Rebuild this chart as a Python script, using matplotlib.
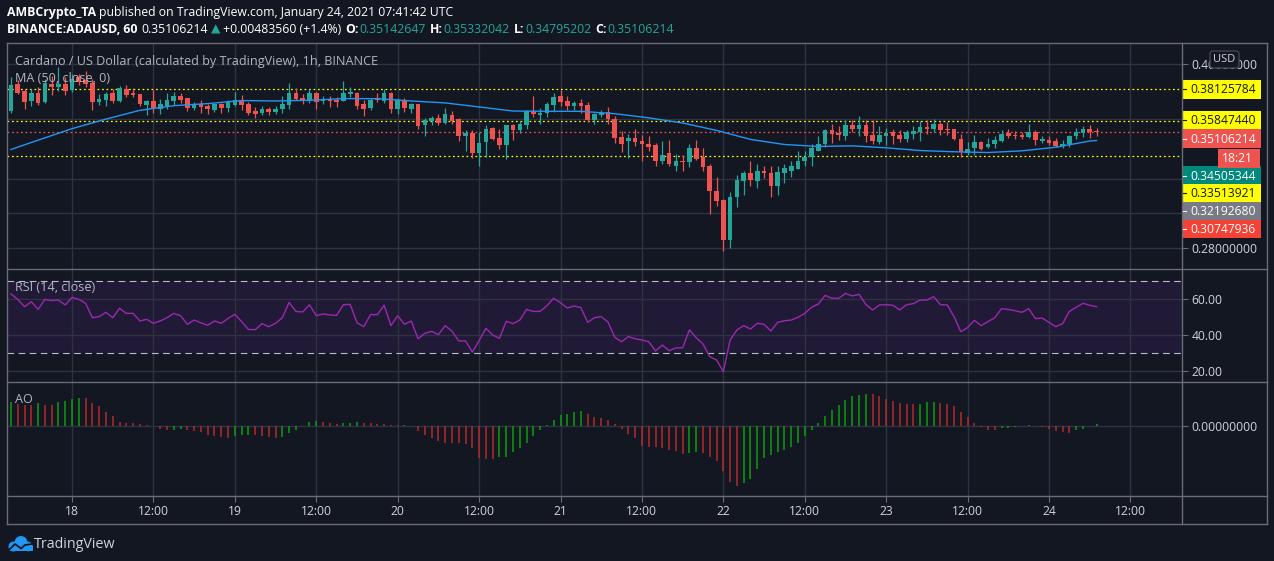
import matplotlib
matplotlib.use('Agg')
import matplotlib.pyplot as plt
from matplotlib.patches import Rectangle, FancyBboxPatch, Circle
from matplotlib.ticker import FixedLocator, FuncFormatter, NullFormatter
import numpy as np
import pandas as pd

# hourly candles ADA/USD, Jan 17 15:00 -> Jan 24 07:00 UTC
times = pd.date_range('2021-01-17 15:00', periods=161, freq='h')

opens = [0.3654, 0.3849, 0.3797, 0.3726, 0.3787, 0.3719, 0.3854, 0.3829, 0.3854,
         0.3804, 0.3905, 0.3879, 0.3861, 0.3719, 0.3731, 0.3785, 0.3726, 0.3816, 0.3785, 0.3775,
         0.3695, 0.3724, 0.3669, 0.3688, 0.3726, 0.3760, 0.3748, 0.3678, 0.3707, 0.3688,
         0.3659, 0.3702, 0.3676, 0.3700, 0.3731, 0.3702, 0.3652, 0.3640, 0.3671, 0.3647,
         0.3669, 0.3700, 0.3787, 0.3750, 0.3731, 0.3782, 0.3724, 0.3738, 0.3731, 0.3726,
         0.3777, 0.3785, 0.3702, 0.3676, 0.3738, 0.3726, 0.3787, 0.3666, 0.3731, 0.3666,
         0.3702, 0.3554, 0.3584, 0.3604, 0.3570, 0.3623, 0.3595, 0.3478, 0.3500, 0.3369,
         0.3440, 0.3533, 0.3469, 0.3418, 0.3554, 0.3519, 0.3554, 0.3652, 0.3623, 0.3640,
         0.3695, 0.3760, 0.3724, 0.3688, 0.3712, 0.3695, 0.3588, 0.3626, 0.3647, 0.3595,
         0.3473, 0.3444, 0.3466, 0.3444, 0.3429, 0.3418, 0.3319, 0.3365, 0.3287, 0.3313,
         0.3309, 0.3404, 0.3339, 0.3281, 0.3131, 0.3077, 0.2842, 0.3091, 0.3189, 0.3242,
         0.3189, 0.3255, 0.3238, 0.3156, 0.3238, 0.3255, 0.3266, 0.3315, 0.3341, 0.3384,
         0.3424, 0.3519, 0.3500, 0.3484, 0.3554, 0.3526, 0.3554, 0.3491, 0.3440, 0.3484,
         0.3507, 0.3489, 0.3458, 0.3496, 0.3507, 0.3542, 0.3530, 0.3561, 0.3526, 0.3526,
         0.3458, 0.3369, 0.3400, 0.3438, 0.3406, 0.3424, 0.3447, 0.3500, 0.3491, 0.3491,
         0.3473, 0.3507, 0.3447, 0.3455, 0.3444, 0.3413, 0.3429, 0.3480, 0.3500, 0.3526,
         0.35142647]
highs = [0.3905, 0.3879, 0.3816, 0.3816, 0.3829, 0.3887, 0.3910, 0.3977, 0.3905,
         0.3930, 0.3925, 0.3951, 0.3887, 0.3780, 0.3792, 0.3816, 0.3834, 0.3841, 0.3824, 0.3780,
         0.3736, 0.3804, 0.3743, 0.3787, 0.3792, 0.3785, 0.3750, 0.3719, 0.3736, 0.3702,
         0.3712, 0.3712, 0.3736, 0.3792, 0.3773, 0.3719, 0.3683, 0.3688, 0.3683, 0.3688,
         0.3760, 0.3859, 0.3824, 0.3780, 0.3816, 0.3792, 0.3760, 0.3760, 0.3755, 0.3871,
         0.3829, 0.3792, 0.3736, 0.3750, 0.3787, 0.3811, 0.3790, 0.3750, 0.3750, 0.3712,
         0.3707, 0.3606, 0.3616, 0.3635, 0.3678, 0.3652, 0.3604, 0.3523, 0.3519, 0.3507,
         0.3554, 0.3542, 0.3526, 0.3556, 0.3561, 0.3584, 0.3664, 0.3760, 0.3676, 0.3719,
         0.3785, 0.3809, 0.3760, 0.3724, 0.3738, 0.3719, 0.3640, 0.3659, 0.3683, 0.3616,
         0.3512, 0.3496, 0.3530, 0.3491, 0.3478, 0.3436, 0.3444, 0.3451, 0.3363, 0.3358,
         0.3424, 0.3451, 0.3400, 0.3298, 0.3217, 0.3081, 0.3121, 0.3230, 0.3255, 0.3319,
         0.3294, 0.3287, 0.3281, 0.3281, 0.3298, 0.3313, 0.3384, 0.3384, 0.3429, 0.3478,
         0.3530, 0.3561, 0.3546, 0.3593, 0.3593, 0.3616, 0.3593, 0.3593, 0.3546, 0.3537,
         0.3530, 0.3519, 0.3523, 0.3546, 0.3581, 0.3588, 0.3600, 0.3577, 0.3575, 0.3530,
         0.3496, 0.3440, 0.3491, 0.3444, 0.3469, 0.3484, 0.3519, 0.3530, 0.3514, 0.3507,
         0.3561, 0.3519, 0.3484, 0.3478, 0.3469, 0.3455, 0.3491, 0.3537, 0.3546, 0.3554,
         0.35332042]
lows = [0.3640, 0.3780, 0.3671, 0.3690, 0.3700, 0.3712, 0.3773, 0.3799, 0.3768,
        0.3790, 0.3841, 0.3829, 0.3664, 0.3700, 0.3690, 0.3712, 0.3719, 0.3755, 0.3755, 0.3688,
        0.3623, 0.3640, 0.3630, 0.3671, 0.3700, 0.3712, 0.3654, 0.3659, 0.3642, 0.3635,
        0.3647, 0.3642, 0.3647, 0.3688, 0.3659, 0.3623, 0.3607, 0.3628, 0.3628, 0.3635,
        0.3640, 0.3671, 0.3731, 0.3707, 0.3714, 0.3671, 0.3707, 0.3683, 0.3683, 0.3726,
        0.3755, 0.3671, 0.3616, 0.3664, 0.3719, 0.3712, 0.3640, 0.3635, 0.3647, 0.3642,
        0.3531, 0.3484, 0.3558, 0.3554, 0.3565, 0.3561, 0.3444, 0.3384, 0.3335, 0.3287,
        0.3341, 0.3451, 0.3395, 0.3326, 0.3451, 0.3500, 0.3526, 0.3611, 0.3565, 0.3611,
        0.3647, 0.3690, 0.3659, 0.3659, 0.3640, 0.3577, 0.3561, 0.3611, 0.3561, 0.3433,
        0.3373, 0.3335, 0.3411, 0.3315, 0.3380, 0.3287, 0.3294, 0.3281, 0.3255, 0.3255,
        0.3277, 0.3324, 0.3251, 0.2989, 0.3038, 0.2783, 0.2800, 0.3032, 0.3107, 0.3156,
        0.3146, 0.3207, 0.3091, 0.3107, 0.3176, 0.3213, 0.3262, 0.3287, 0.3287, 0.3380,
        0.3406, 0.3433, 0.3451, 0.3451, 0.3507, 0.3484, 0.3440, 0.3429, 0.3429, 0.3418,
        0.3424, 0.3440, 0.3440, 0.3458, 0.3447, 0.3496, 0.3507, 0.3489, 0.3491, 0.3451,
        0.3345, 0.3352, 0.3356, 0.3389, 0.3402, 0.3402, 0.3440, 0.3469, 0.3458, 0.3462,
        0.3469, 0.3418, 0.3433, 0.3418, 0.3406, 0.3400, 0.3406, 0.3458, 0.3473, 0.3469,
        0.34795202]
closes = [0.3841, 0.3785, 0.3719, 0.3787, 0.3712, 0.3859, 0.3829, 0.3854, 0.3799,
          0.3892, 0.3866, 0.3854, 0.3719, 0.3738, 0.3775, 0.3724, 0.3824, 0.3768, 0.3770, 0.3702,
          0.3724, 0.3676, 0.3702, 0.3731, 0.3760, 0.3736, 0.3676, 0.3707, 0.3683, 0.3671,
          0.3702, 0.3676, 0.3719, 0.3736, 0.3695, 0.3640, 0.3635, 0.3671, 0.3647, 0.3671,
          0.3702, 0.3787, 0.3743, 0.3736, 0.3782, 0.3719, 0.3738, 0.3726, 0.3719, 0.3782,
          0.3790, 0.3690, 0.3666, 0.3736, 0.3736, 0.3787, 0.3666, 0.3736, 0.3676, 0.3702,
          0.3549, 0.3588, 0.3604, 0.3570, 0.3630, 0.3581, 0.3484, 0.3500, 0.3369, 0.3436,
          0.3526, 0.3458, 0.3418, 0.3554, 0.3519, 0.3561, 0.3652, 0.3630, 0.3640, 0.3702,
          0.3755, 0.3717, 0.3688, 0.3712, 0.3688, 0.3588, 0.3630, 0.3642, 0.3595, 0.3466,
          0.3425, 0.3466, 0.3440, 0.3425, 0.3406, 0.3319, 0.3358, 0.3294, 0.3313, 0.3309,
          0.3404, 0.3330, 0.3277, 0.3127, 0.3071, 0.2842, 0.3091, 0.3193, 0.3238, 0.3193,
          0.3255, 0.3238, 0.3156, 0.3249, 0.3270, 0.3281, 0.3313, 0.3345, 0.3398, 0.3424,
          0.3519, 0.3496, 0.3489, 0.3554, 0.3526, 0.3554, 0.3484, 0.3447, 0.3491, 0.3500,
          0.3484, 0.3458, 0.3507, 0.3514, 0.3542, 0.3528, 0.3561, 0.3519, 0.3523, 0.3458,
          0.3373, 0.3395, 0.3438, 0.3395, 0.3429, 0.3451, 0.3496, 0.3484, 0.3478, 0.3473,
          0.3507, 0.3451, 0.3464, 0.3433, 0.3413, 0.3429, 0.3484, 0.3507, 0.3526, 0.3507,
          0.35106214]

# MA(50) read at a few candles (index into times)
ma_idx = [0, 4, 9, 14, 19, 24, 29, 34, 39, 44, 49, 54, 59, 64, 69, 74, 79, 84, 89, 94,
          99, 104, 109, 114, 119, 124, 129, 134, 139, 144, 149, 154, 159, 160]
ma_vals = [0.3391, 0.3453, 0.3531, 0.3597, 0.3659, 0.3692, 0.3707, 0.3729, 0.3726, 0.3731,
           0.3743, 0.3743, 0.3726, 0.3712, 0.3683, 0.3654, 0.3652, 0.3652, 0.3635, 0.3606,
           0.3570, 0.3519, 0.3458, 0.3424, 0.3411, 0.3415, 0.3402, 0.3384, 0.3376, 0.3371,
           0.3382, 0.3406, 0.3447, 0.34505]

rsi = [63.0, 60.0, 55.9, 58.7, 54.4, 60.0, 59.3, 59.6, 56.9,
       61.1, 60.0, 57.8, 49.8, 50.4, 52.8, 49.8, 55.0, 52.2, 52.2, 48.0,
       48.9, 46.7, 48.0, 49.8, 52.2, 50.9, 46.1, 48.5, 47.0, 45.6,
       48.0, 46.7, 49.4, 51.7, 47.6, 43.3, 43.1, 46.5, 44.8, 46.7,
       49.8, 58.3, 53.3, 53.0, 57.0, 50.9, 51.9, 51.3, 51.1, 57.0,
       57.2, 47.0, 44.8, 51.5, 51.5, 56.7, 45.4, 50.9, 46.1, 48.0,
       38.1, 41.1, 42.2, 40.4, 45.4, 42.4, 36.9, 36.9, 30.7, 37.0,
       43.9, 40.2, 38.3, 47.8, 46.5, 48.5, 54.4, 53.3, 53.3, 56.5,
       60.6, 58.1, 55.2, 56.3, 55.4, 47.2, 49.8, 50.4, 47.4, 38.9,
       36.5, 39.3, 38.1, 37.4, 36.5, 31.3, 34.6, 31.5, 33.0, 33.1,
       43.0, 38.7, 35.2, 28.1, 26.3, 19.8, 37.4, 43.0, 45.4, 43.5,
       46.7, 46.1, 42.4, 47.2, 48.1, 48.5, 50.0, 52.2, 55.6, 57.4,
       62.2, 60.6, 60.6, 63.3, 61.9, 62.8, 57.2, 54.1, 56.9, 57.0,
       56.7, 54.1, 57.0, 57.6, 59.6, 59.6, 61.5, 57.0, 56.9, 50.4,
       42.0, 44.3, 48.3, 45.4, 47.6, 49.8, 54.8, 54.4, 53.7, 52.8,
       54.8, 49.3, 49.6, 47.2, 44.8, 46.5, 53.3, 55.6, 57.8, 56.7,
       55.9]

ao = [0.0144, 0.0130, 0.0126, 0.0124, 0.0136, 0.0126, 0.0126, 0.0144, 0.0148,
      0.0162, 0.0168, 0.0168, 0.0136, 0.0116, 0.0082, 0.0056, 0.0024, 0.0018, 0.0018, 0.0012,
      0.0002, -0.0004, -0.0020, -0.0028, -0.0026, -0.0020, -0.0024, -0.0030, -0.0038, -0.0054,
      -0.0064, -0.0070, -0.0072, -0.0064, -0.0058, -0.0054, -0.0058, -0.0060, -0.0070, -0.0074,
      -0.0068, -0.0044, -0.0024, -0.0002, 0.0024, 0.0030, 0.0022, 0.0018, 0.0012, 0.0014,
      0.0018, 0.0022, 0.0018, 0.0016, 0.0012, 0.0008, 0.0006, 0.0004, 0.0006, -0.0004,
      -0.0030, -0.0058, -0.0074, -0.0090, -0.0100, -0.0101, -0.0104, -0.0110, -0.0134, -0.0194,
      -0.0198, -0.0199, -0.0188, -0.0184, -0.0154, -0.0134, -0.0104, -0.0064, -0.0028, 0.0006,
      0.0036, 0.0064, 0.0068, 0.0084, 0.0088, 0.0072, 0.0054, 0.0044, 0.0036, 0.0012,
      -0.0020, -0.0049, -0.0076, -0.0118, -0.0124, -0.0128, -0.0134, -0.0144, -0.0150, -0.0168,
      -0.0160, -0.0159, -0.0162, -0.0184, -0.0210, -0.0268, -0.0334, -0.0360, -0.0340, -0.0316,
      -0.0258, -0.0190, -0.0174, -0.0154, -0.0144, -0.0124, -0.0100, -0.0064, -0.0024, 0.0016,
      0.0060, 0.0096, 0.0126, 0.0156, 0.0176, 0.0186, 0.0192, 0.0191, 0.0180, 0.0162,
      0.0150, 0.0136, 0.0132, 0.0130, 0.0132, 0.0140, 0.0142, 0.0136, 0.0132, 0.0116,
      0.0082, 0.0050, 0.0016, -0.0008, -0.0024, -0.0025, -0.0016, -0.0012, -0.0010, -0.0004,
      0.0006, 0.0000, -0.0008, -0.0020, -0.0030, -0.0038, -0.0044, -0.0028, -0.0020, -0.0004,
      0.0012]

level_lines = [0.38125784, 0.35847440, 0.33513921]
last_price = 0.35106214
price_labels = [0.28, 0.40]          # labelled price ticks
price_grid = [0.30, 0.32, 0.36]      # grid only, labels hidden under tags
rsi_ticks = [20, 40, 60]

# axis price tags: (y pixel, text, box colour, text colour)
tags = [(89.3, '0.38125784', '#ffff00', '#131722'),
        (120.0, '0.35847440', '#ffff00', '#131722'),
        (138.7, '0.35106214', '#ef5350', '#ffffff'),
        (175.7, '0.34505344', '#00897b', '#ffffff'),
        (193.3, '0.33513921', '#ffff00', '#131722'),
        (211.0, '0.32192680', '#787b86', '#ffffff'),
        (229.0, '0.30747936', '#f44336', '#ffffff')]

BG = '#131722'
GRID = '#2f3341'
EDGE = '#6a6d78'
TXT = '#d1d4dc'
UP = '#26a69a'
DN = '#ef5350'

plt.rcParams['font.family'] = ['Open Sans', 'DejaVu Sans']

W, H = 1274, 561
fig = plt.figure(figsize=(W / 100, H / 100), dpi=100, facecolor=BG)


def pane(top, bottom):
    a = fig.add_axes([7 / W, 1 - bottom / H, (1182 - 7) / W, (bottom - top) / H])
    a.set_facecolor(BG)
    for s in a.spines.values():
        s.set_visible(False)
    return a


ax = pane(43, 269.3)
ax_rsi = pane(269.3, 382.3)
ax_ao = pane(382.3, 495.7)

x0 = pd.Timestamp('2021-01-17 14:25')
x1 = pd.Timestamp('2021-01-24 19:36')
xt = pd.date_range('2021-01-18', '2021-01-24 12:00', freq='12h')
xt_labels = [str(t.day) if t.hour == 0 else '12:00' for t in xt]

for a in (ax, ax_rsi, ax_ao):
    a.set_xlim(x0, x1)
    a.set_xticks(xt)
    a.grid(True, axis='x', color=GRID, lw=1)
    a.set_axisbelow(True)
    a.tick_params(axis='x', length=0, labelbottom=False)
    a.yaxis.tick_right()
    a.tick_params(axis='y', which='both', length=4, width=0.8, color=EDGE,
                  labelcolor=TXT, labelsize=8.7, pad=3)

# ---- price pane
o = np.array(opens)
c = np.array(closes)
col = np.where(c >= o, UP, DN)
body_lo = np.minimum(o, c)
body_h = np.maximum(np.abs(c - o), 0.0003)
ax.set_yscale('log')
ax.vlines(times, lows, highs, colors=col, lw=0.9, zorder=3)
ax.bar(times, body_h, bottom=body_lo, width=0.68 / 24, color=col, lw=0, zorder=4)
ax.plot(times[ma_idx], ma_vals, color='#2196f3', lw=1.0, zorder=5)
for lv in level_lines:
    ax.axhline(lv, color='#ffff00', lw=0.9, ls=(0, (1.4, 2.2)), zorder=2)
ax.axhline(last_price, color=DN, lw=0.9, ls=(0, (1.4, 2.2)), zorder=2)
ax.set_ylim(0.2687, 0.4170)
ax.yaxis.set_major_locator(FixedLocator(price_labels))
ax.yaxis.set_minor_locator(FixedLocator(price_grid))
ax.yaxis.set_major_formatter(FuncFormatter(lambda v, p: '%.8f' % v))
ax.yaxis.set_minor_formatter(NullFormatter())
ax.grid(True, axis='y', which='both', color=GRID, lw=1)

# ---- RSI pane
ax_rsi.fill_between([x0, x1], 30, 70, color='#211a37', lw=0, zorder=0)
ax_rsi.axhline(70, color='#b8bcc8', lw=0.8, ls=(0, (6, 4)))
ax_rsi.axhline(30, color='#b8bcc8', lw=0.8, ls=(0, (6, 4)))
ax_rsi.plot(times, rsi, color='#9c27b0', lw=1.0, zorder=3)
ax_rsi.set_ylim(13.9, 76.7)
ax_rsi.set_yticks(rsi_ticks)
ax_rsi.set_yticklabels(['%.2f' % v for v in rsi_ticks])
ax_rsi.grid(True, axis='y', color=GRID, lw=1)

# ---- AO pane
ao_arr = np.array(ao)
ao_col = ['#0c9e0c' if i > 0 and ao_arr[i] > ao_arr[i - 1] else '#b52a2a' for i in range(len(ao_arr))]
ao_col[0] = '#0c9e0c'
ax_ao.vlines(times, 0, ao_arr, colors=ao_col, lw=1.1, zorder=3)
ax_ao.set_ylim(-0.0418, 0.0260)
ax_ao.set_yticks([0])
ax_ao.set_yticklabels(['0.00000000'])
ax_ao.grid(True, axis='y', color=GRID, lw=1)
ax_ao.tick_params(axis='x', length=4, color=EDGE, labelbottom=True, labelsize=8.7,
                  labelcolor=TXT, pad=2.5)
ax_ao.set_xticklabels(xt_labels)

# ---- overlay for frame, labels, header
ov = fig.add_axes([0, 0, 1, 1], zorder=10)
ov.set_xlim(0, W)
ov.set_ylim(H, 0)
ov.axis('off')
ov.patch.set_alpha(0)

for y in (43, 269.3, 382.3, 495.7, 524):
    ov.plot([7, 1267], [y, y], color=EDGE, lw=1)
for x in (7, 1182, 1267):
    ov.plot([x, x], [43, 524], color=EDGE, lw=1)

for y, s, bc, tc in tags:
    ov.add_patch(Rectangle((1182.5, y - 9.3), 78, 18.6, color=bc, lw=0))
    ov.plot([1182.5, 1186], [y, y], color=tc, lw=0.8)
    ov.text(1190, y + 0.5, s, color=tc, fontsize=8.7, va='center', ha='left')
ov.add_patch(Rectangle((1218, 149.3), 42, 18.4, color='#ef5350', lw=0))
ov.text(1222, 158.8, '18:21', color='#ffffff', fontsize=8.7, va='center', ha='left')

ov.add_patch(FancyBboxPatch((1210, 51), 29, 17, boxstyle='round,pad=0,rounding_size=3',
                            fc=BG, ec='#434651', lw=1))
ov.text(1224.5, 59.8, 'USD', color=TXT, fontsize=8, va='center', ha='center')

ov.text(15, 61, 'Cardano / US Dollar (calculated by TradingView), 1h, BINANCE',
        color='#b2b5be', fontsize=9.1, va='center')
ov.text(15, 78, 'MA (50, close, 0)', color='#b2b5be', fontsize=9.1, va='center')
ov.text(15, 287, 'RSI (14, close)', color='#b2b5be', fontsize=9.1, va='center')
ov.text(15, 399, 'AO', color='#b2b5be', fontsize=9.1, va='center')

rend = fig.canvas.get_renderer()


def run(x, y, parts, size):
    for s, colr, wt, gap in parts:
        t = ov.text(x, y, s, color=colr, fontsize=size, fontweight=wt, va='center', ha='left')
        x += t.get_window_extent(rend).width + gap


WH = '#ffffff'
run(7, 12.5, [('AMBCrypto_TA', WH, 'bold', 3.2),
              ('published on TradingView.com, January 24, 2021 07:41:42 UTC', WH, 'normal', 0)], 8.8)
run(7, 29.5, [('BINANCE:ADAUSD, 60', WH, 'bold', 4),
              ('0.35106214', WH, 'normal', 3),
              ('\u25b2', UP, 'normal', 3),
              ('+0.00483560 (+1.4%)', WH, 'normal', 4),
              ('O:', WH, 'bold', 0.5), ('0.35142647', UP, 'normal', 4.3),
              ('H:', WH, 'bold', 0.5), ('0.35332042', UP, 'normal', 4.3),
              ('L:', WH, 'bold', 0.5), ('0.34795202', UP, 'normal', 4.3),
              ('C:', WH, 'bold', 0.5), ('0.35106214', UP, 'normal', 0)], 8.8)

# TradingView logo
blue = '#2196f3'
for cx, cy, r in [(13.5, 546.5, 5), (21, 542.5, 6.5), (28, 546.5, 4.8)]:
    ov.add_patch(Circle((cx, cy), r, color=blue, lw=0))
ov.add_patch(Rectangle((8.5, 546), 24.3, 5.3, color=blue, lw=0))
ov.plot([9, 15, 21, 25, 32], [550, 544, 548.5, 545, 544], color=BG, lw=1.3)
ov.text(34, 544, 'TradingView', color=TXT, fontsize=10.3, va='center', ha='left')

fig.savefig('out.png', dpi=100, facecolor=BG)
